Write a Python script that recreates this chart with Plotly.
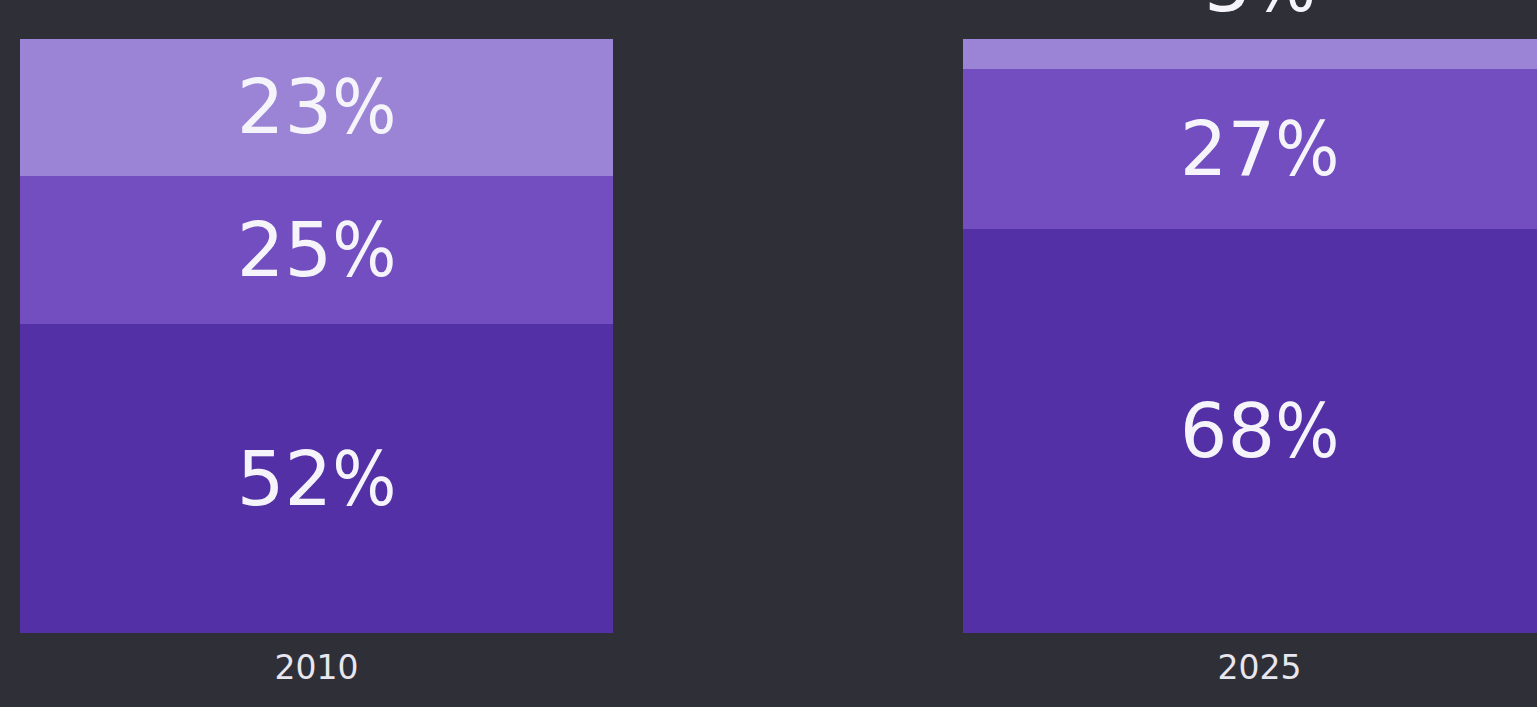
import plotly.graph_objects as go

years = ["2010", "2025"]
bottom_vals = [52, 68]
middle_vals = [25, 27]
top_vals = [23, 5]
bottom_text = ["52%", "68%"]
middle_text = ["25%", "27%"]
top_text = ["23%", "5%"]

bg = "#2f2f38"
c_dark = "#5430a6"
c_mid = "#734ec0"
c_light = "#9b83d5"
txt = "#f6f4fb"
FONT = "DejaVu Sans"
LBL = 75


def pct(s):
    # narrower percent sign like the reference
    return s.replace("%", "<span style='font-family:DejaVu Sans Condensed'>%</span>")


fig = go.Figure()
bar_w = 0.629
common = dict(width=bar_w, textangle=0, insidetextanchor="middle", cliponaxis=False,
              hoverinfo="skip", marker_line_width=0)
fig.add_trace(go.Bar(x=years, y=bottom_vals, text=[pct(t) for t in bottom_text], marker_color=c_dark,
                     textposition="inside", textfont=dict(size=LBL, color=txt, family=FONT), **common))
fig.add_trace(go.Bar(x=years, y=middle_vals, text=[pct(t) for t in middle_text], marker_color=c_mid,
                     textposition="inside", textfont=dict(size=LBL, color=txt, family=FONT), **common))
fig.add_trace(go.Bar(x=years, y=top_vals, text=[pct(top_text[0]), ""], marker_color=c_light,
                     textposition="inside",
                     textfont=dict(size=LBL, color=txt, family=FONT), **common))

# small top segment label sits above the bar
totals = [b + m + t for b, m, t in zip(bottom_vals, middle_vals, top_vals)]
fig.add_annotation(x=1, xref="x", y=totals[1], yref="y", text=pct(top_text[1]), showarrow=False,
                   yanchor="bottom", yshift=8, font=dict(size=LBL, color=txt, family=FONT))

fig.update_layout(
    barmode="stack",
    width=1537, height=707,
    margin=dict(l=0, r=0, t=39, b=74),
    paper_bgcolor=bg, plot_bgcolor=bg,
    showlegend=False,
    font=dict(family=FONT, color=txt),
    xaxis=dict(type="category", range=[-0.3356, 1.2942], showgrid=False, zeroline=False,
               showline=False, ticks="", ticklabelstandoff=12,
               tickfont=dict(size=33, color="#e8e6ee", family=FONT)),
    yaxis=dict(range=[0, 100.001], visible=False, showgrid=False, zeroline=False),
)
fig.write_html("out.html", config={"displayModeBar": False},
               post_script="document.body.style.margin='0';document.body.style.background='%s';" % bg)
